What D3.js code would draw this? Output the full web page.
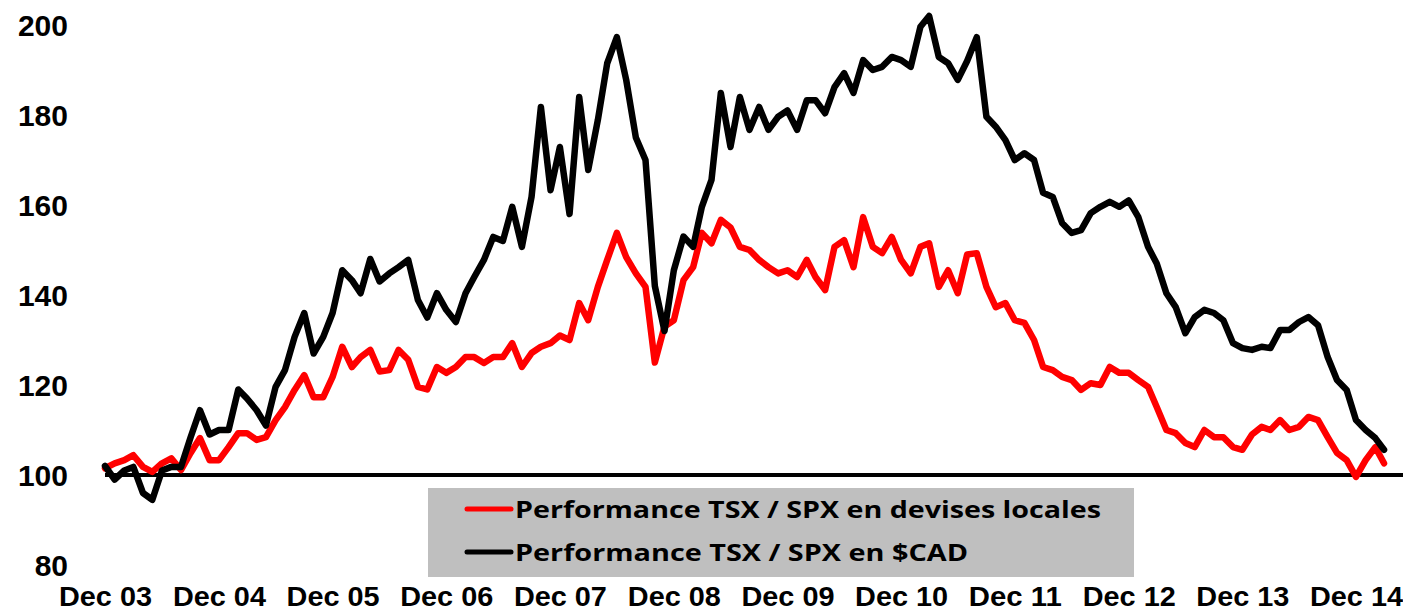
<!DOCTYPE html>
<html>
<head>
<meta charset="utf-8">
<script src="https://cdn.jsdelivr.net/npm/d3@7"></script>
<style>
  body { margin: 0; background: #fff; }
  svg { display: block; font-family: "Open Sans", sans-serif; }
  .tick-label { font-weight: 700; fill: #000; }
  .legend-label { font-weight: 700; fill: #000; }
</style>
</head>
<body>
<div id="chart"></div>
<script>
// monthly observations, Dec 2003 -> Mar 2015
const startMonth = new Date(2003, 11, 1);
const endMonth = new Date(2015, 2, 1);

// Performance TSX / SPX en $CAD
const cadValues = [
  102,
  99, 101, 101.8, 96, 94.5, 101, 101.8, 101.8, 108.4, 114.4, 109, 110,
  110, 119, 117, 114.4, 111, 119.6, 123.3, 130.7, 136, 127, 130.7, 136,
  145.5, 143.3, 140.4, 148, 143, 144.8, 146.2, 147.8, 138.9, 135, 140.4, 136.7,
  134, 140.4, 144, 147.8, 152.9, 152, 159.6, 150.7, 161.8, 181.8, 163.3, 172.9,
  158, 184, 167.8, 178.9, 191.5, 197.3, 187.8, 175, 170, 142, 132, 145.5,
  153, 150.7, 159.6, 165.6, 184.9, 172.9, 184, 176.7, 181.8, 176.7, 179.6, 181,
  176.7, 183.3, 183.3, 180.4, 186.2, 189.3, 184.9, 192.2, 190, 190.7, 192.9, 192.2,
  190.7, 199.6, 202, 192.9, 191.5, 187.8, 192, 197.3, 179.6, 177.4, 174.4, 170,
  171.5, 170, 162.7, 161.8, 156, 153.8, 154.4, 158.2, 159.6, 160.7, 159.6, 161,
  157.3, 150.7, 147, 140.4, 137.3, 131.5, 135.1, 136.7, 136, 134.4, 129.3, 128.2,
  127.8, 128.5, 128.2, 132.2, 132.2, 134, 135.1, 133.3, 126.2, 121.1, 118.9, 112.2,
  110, 108.2, 105.6
];

// Performance TSX / SPX en devises locales
const localValues = [
  101.5,
  102.6, 103.3, 104.4, 101.8, 100.7, 102.6, 103.7, 101.1, 104.9, 108.2, 103.3, 103.3,
  106.2, 109.3, 109.3, 107.8, 108.4, 112.2, 115.1, 118.9, 122.2, 117.3, 117.3, 121.8,
  128.5, 124, 126.2, 127.8, 123, 123.3, 127.8, 125.6, 119.6, 119, 124, 122.7,
  124, 126.2, 126.2, 124.9, 126.2, 126.2, 129.3, 124, 127.1, 128.5, 129.3, 131,
  130, 138.2, 134.4, 141.8, 147.8, 153.8, 148.4, 144.8, 141.8, 125, 133, 134.4,
  143.3, 146.2, 153.8, 151.5, 156.7, 155, 150.7, 150, 147.8, 146.2, 144.8, 145.5,
  144, 147.8, 144, 141.1, 150.7, 152.2, 146.2, 157.3, 150.7, 149.3, 152.9, 147.8,
  144.8, 150.7, 151.5, 141.8, 145.5, 140.4, 149, 149.3, 141.8, 137.3, 138.2, 134.4,
  133.8, 130, 124, 123.3, 121.8, 121.1, 118.9, 120.4, 120, 124, 122.7, 122.7,
  121.1, 119.6, 115.1, 110, 109.3, 107.1, 106.2, 110, 108.4, 108.4, 106.2, 105.6,
  109, 110.7, 110, 112.2, 110, 110.7, 112.9, 112.2, 108.4, 104.9, 103.3, 99.6,
  103.3, 106.2, 102.6
];

const yTicks = [80, 100, 120, 140, 160, 180, 200];
const xTickLabels = ["Dec 03", "Dec 04", "Dec 05", "Dec 06", "Dec 07", "Dec 08",
  "Dec 09", "Dec 10", "Dec 11", "Dec 12", "Dec 13", "Dec 14"];

const seriesNames = ["Performance TSX / SPX en devises locales", "Performance TSX / SPX en $CAD"];
const seriesColors = ["#ff0000", "#000000"];
const legendWidths = [586, 453];

const width = 1403, height = 613;

const months = d3.timeMonth.range(startMonth, d3.timeMonth.offset(endMonth, 1));
const cadData = months.map((d, i) => ({ date: d, value: cadValues[i] }));
const localData = months.map((d, i) => ({ date: d, value: localValues[i] }));

const svg = d3.select("#chart")
  .append("svg")
  .attr("width", width)
  .attr("height", height);

const x = d3.scaleTime()
  .domain([new Date(2003, 11, 1), new Date(2014, 11, 1)])
  .range([105, 1356]);

const y = d3.scaleLinear()
  .domain([80, 200])
  .range([565, 25]);

// y axis labels
const yAxis = d3.axisLeft(y).tickValues(yTicks).tickSize(0).tickPadding(0);
svg.append("g")
  .attr("class", "y-axis")
  .attr("transform", "translate(68,0)")
  .call(yAxis)
  .call((g) => g.select(".domain").remove())
  .selectAll("text")
  .attr("class", "tick-label")
  .style("font-size", "30px")
  .attr("dy", "0.36em");

// x axis labels, one per December
const xTickDates = xTickLabels.map((d) => new Date(2000 + +d.slice(4), 11, 1));
const xAxis = d3.axisBottom(x)
  .tickValues(xTickDates)
  .tickSize(0)
  .tickPadding(0)
  .tickFormat((d, i) => xTickLabels[i]);
svg.append("g")
  .attr("class", "x-axis")
  .attr("transform", "translate(0,587)")
  .call(xAxis)
  .call((g) => g.select(".domain").remove())
  .selectAll("text")
  .attr("class", "tick-label")
  .style("font-size", "27px")
  .attr("dy", "0.71em")
  .attr("textLength", 93)
  .attr("lengthAdjust", "spacingAndGlyphs");

// 100 baseline
svg.append("line")
  .attr("x1", x(new Date(2003, 11, 1)))
  .attr("x2", width)
  .attr("y1", y(100))
  .attr("y2", y(100))
  .attr("stroke", "#000")
  .attr("stroke-width", 4);

const line = d3.line()
  .x((d) => x(d.date))
  .y((d) => y(d.value));

[localData, cadData].forEach((data, i) => {
  svg.append("path")
    .datum(data)
    .attr("d", line)
    .style("fill", "none")
    .style("stroke", seriesColors[i])
    .style("stroke-width", 6.5)
    .style("stroke-linejoin", "round")
    .style("stroke-linecap", "round");
});

// legend
const legend = svg.append("g").attr("class", "legend");
legend.append("rect")
  .attr("x", 428)
  .attr("y", 488)
  .attr("width", 706)
  .attr("height", 89)
  .attr("fill", "#bfbfbf");

seriesNames.forEach((name, i) => {
  const ly = 509 + i * 43;
  legend.append("line")
    .attr("x1", 467)
    .attr("x2", 511)
    .attr("y1", ly)
    .attr("y2", ly)
    .attr("stroke", seriesColors[i])
    .attr("stroke-width", 5)
    .attr("stroke-linecap", "round");
  legend.append("text")
    .attr("class", "legend-label")
    .attr("x", 515)
    .attr("y", ly)
    .attr("dy", "0.36em")
    .style("font-size", "24px")
    .attr("textLength", legendWidths[i])
    .attr("lengthAdjust", "spacingAndGlyphs")
    .text(name);
});
</script>
</body>
</html>
